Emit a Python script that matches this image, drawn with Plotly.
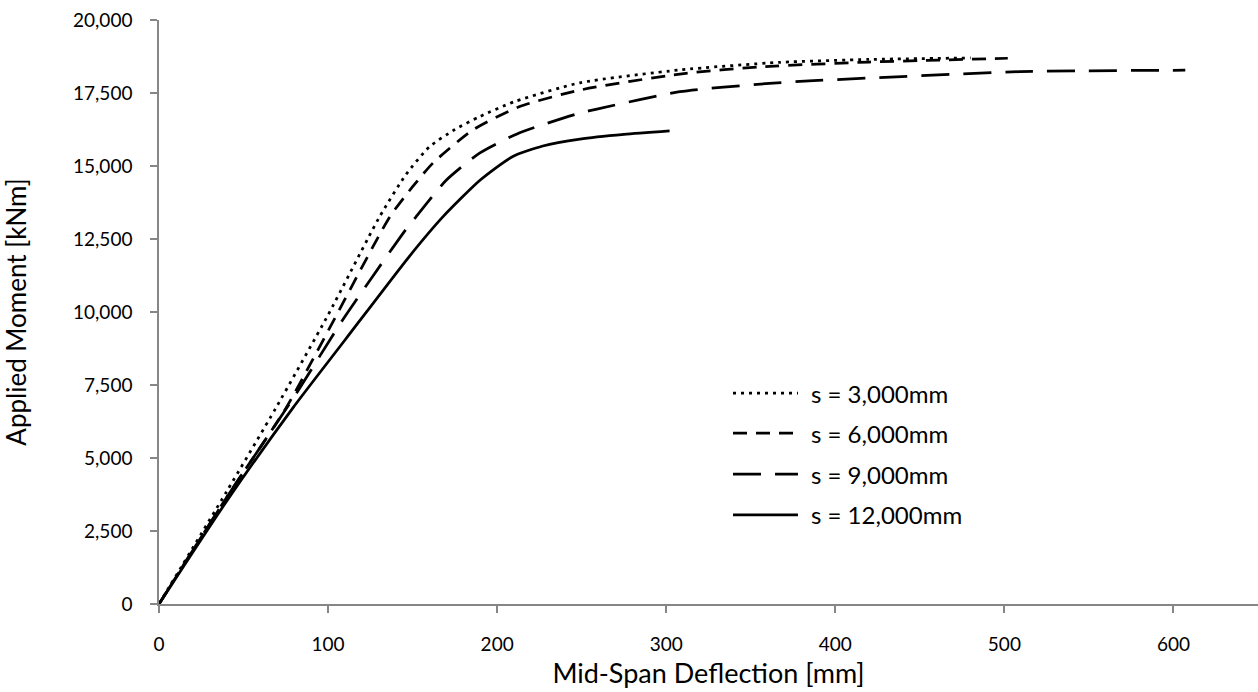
import plotly.graph_objects as go

# Mid-span deflection [mm] vs applied moment [kNm] for four spacings
defl_3000 = [0, 40, 69, 100, 130.5, 146, 160, 175, 189.6, 210, 249, 308, 367, 420, 480]
moment_3000 = [0, 3850, 6700, 9900, 13265, 14700, 15660, 16250, 16688, 17200, 17850, 18290, 18550, 18650, 18700]

defl_6000 = [0, 40, 75, 100, 136.5, 150, 162, 185.5, 213, 249, 308, 357, 420, 502]
moment_6000 = [0, 3650, 6700, 9350, 13260, 14290, 15100, 16230, 17030, 17600, 18150, 18400, 18560, 18690]

defl_9000 = [0, 40, 80, 108.6, 146.3, 152, 170, 189.6, 213, 249, 259, 308, 361, 387, 509, 607]
moment_9000 = [0, 3650, 7100, 9726, 12850, 13260, 14520, 15440, 16130, 16815, 16950, 17545, 17830, 17920, 18230, 18280]

defl_12000 = [0, 40, 79, 110, 148, 168, 190, 209, 227, 249, 275, 302]
moment_12000 = [0, 3520, 6700, 9040, 11900, 13265, 14520, 15320, 15685, 15920, 16080, 16200]

series_names = ["s = 3,000mm", "s = 6,000mm", "s = 9,000mm", "s = 12,000mm"]
x_ticks = [0, 100, 200, 300, 400, 500, 600]
y_ticks = [0, 2500, 5000, 7500, 10000, 12500, 15000, 17500, 20000]

FONT = "Lato"
AXIS_GREY = "#868686"
LINE_W = 2.75
dash_styles = ["3px,5px", "14px,9px", "28px,14px", "solid"]

series = [
    (defl_3000, moment_3000),
    (defl_6000, moment_6000),
    (defl_9000, moment_9000),
    (defl_12000, moment_12000),
]

fig = go.Figure()
for (xs, ys), name, dash in zip(series, series_names, dash_styles):
    fig.add_trace(go.Scatter(
        x=xs, y=ys, name=name, mode="lines",
        line=dict(color="black", width=LINE_W, dash=dash, shape="spline", smoothing=0.6),
        showlegend=False,
    ))

# Legend block drawn inside the plot area
leg_x0, leg_x1, leg_tx = 0.5223, 0.5814, 0.5915
leg_rows = [0.3613, 0.2928, 0.2226, 0.1524]
for name, dash, ly in zip(series_names, dash_styles, leg_rows):
    fig.add_shape(type="line", xref="paper", yref="paper",
                  x0=leg_x0, x1=leg_x1, y0=ly, y1=ly,
                  line=dict(color="black", width=LINE_W, dash=dash))
    fig.add_annotation(xref="paper", yref="paper", x=leg_tx, y=ly,
                       text=name, showarrow=False, xanchor="left", yanchor="middle",
                       font=dict(family=FONT, size=24, color="black"))

fig.update_layout(
    width=1258, height=692,
    margin=dict(l=159, r=0, t=20, b=88),
    paper_bgcolor="white", plot_bgcolor="white",
    font=dict(family=FONT, size=19, color="black"),
)
fig.update_xaxes(
    range=[0, 650], tickvals=x_ticks, ticktext=[str(v) for v in x_ticks],
    showline=True, linecolor=AXIS_GREY, linewidth=1.5,
    ticks="outside", ticklen=7, tickcolor=AXIS_GREY, tickwidth=1.5,
    showgrid=False, zeroline=False, ticklabelstandoff=15,
    title=dict(text="Mid-Span Deflection [mm]", font=dict(family=FONT, size=27), standoff=11),
)
fig.update_yaxes(
    range=[0, 20000], tickvals=y_ticks, ticktext=[f"{v:,}" for v in y_ticks],
    showline=True, linecolor=AXIS_GREY, linewidth=1.5,
    ticks="outside", ticklen=7, tickcolor=AXIS_GREY, tickwidth=1.5,
    showgrid=False, zeroline=False, ticklabelstandoff=14,
    title=dict(text="Applied Moment [kNm]", font=dict(family=FONT, size=26), standoff=56),
)

fig.write_html("out.html")
